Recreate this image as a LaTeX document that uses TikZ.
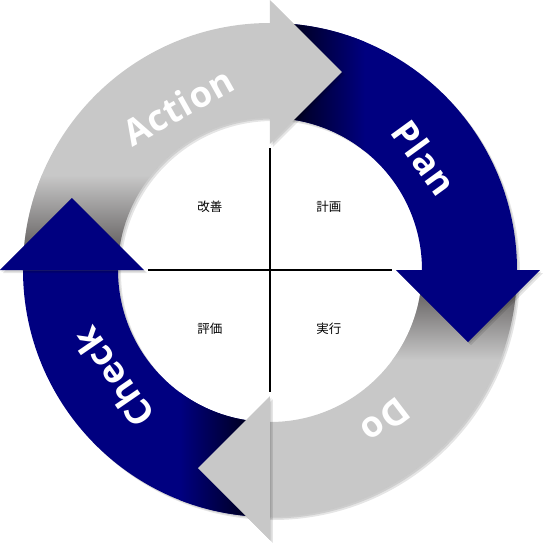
\documentclass[tikz,border=0pt]{standalone}
\usepackage{fontspec}
\newfontfamily\labfont{Open Sans}[LetterSpace=2]
\newfontfamily\cjk{Noto Sans CJK JP}
\definecolor{pdnavy}{RGB}{0,0,128}
\definecolor{pdgray}{RGB}{200,200,200}
\definecolor{pddark}{RGB}{72,68,68}
\def\ri{152}
\def\ro{247}
\tikzset{
  sector/.style n args={2}{insert path={(#1:\ro) arc[start angle=#1,end angle=#2,radius=\ro] -- (#2:\ri) arc[start angle=#2,end angle=#1,radius=\ri] -- cycle}},
  shad/.style={fill=black,opacity=0.10},
  lab/.style={text=white,font=\labfont\bfseries\fontsize{36}{36}\selectfont,inner sep=0pt},
  jp/.style={font=\cjk\fontsize{12.5}{13}\selectfont,inner sep=0pt},
  cross/.style={line width=1.8pt}
}
\begin{document}
\begin{tikzpicture}[x=1pt,y=1pt]
\useasboundingbox (-270,-280) rectangle (280,270);
% body shadows
\foreach \a/\b in {90/0,0/-90,270/180,180/90}{
  \path[shad,shift={(1.5,-1.5)},sector={\a}{\b}];
  \path[shad,shift={(3,-3)},sector={\a}{\b}];
}
% Plan body
\path[fill=pdnavy,sector={90}{0}];
\begin{scope}
  \path[clip,sector={90}{0}];
  \shade[left color=black,right color=pdnavy] (0,100) rectangle (95,260);
\end{scope}
% Do body
\path[fill=pdgray,sector={0}{-90}];
\begin{scope}
  \path[clip,sector={0}{-90}];
  \shade[top color=pddark,bottom color=pdgray] (100,-90) rectangle (260,0);
\end{scope}
% Check body
\path[fill=pdnavy,sector={270}{180}];
\begin{scope}
  \path[clip,sector={270}{180}];
  \shade[left color=pdnavy,right color=black] (-90,-260) rectangle (0,-100);
\end{scope}
% Action body
\path[fill=pdgray,sector={180}{90}];
\begin{scope}
  \path[clip,sector={180}{90}];
  \shade[bottom color=pddark,top color=pdgray] (-260,0) rectangle (-100,95);
\end{scope}
% head shadows
\foreach \s in {1.5,3}{
  \fill[shad,shift={(\s,-\s)}] (126,0) -- (270,0) -- (198,-72) -- cycle;
  \fill[shad,shift={(\s,-\s)}] (0,-126) -- (0,-270) -- (-72,-198) -- cycle;
  \fill[shad,shift={(\s,-\s)}] (-126,0) -- (-270,0) -- (-198,72) -- cycle;
  \fill[shad,shift={(\s,-\s)}] (0,126) -- (0,270) -- (72,198) -- cycle;
}
% heads
\fill[pdnavy] (126,0) -- (270,0) -- (198,-72) -- cycle;
\fill[pdgray] (0,-126) -- (0,-270) -- (-72,-198) -- cycle;
\fill[pdnavy] (-126,0) -- (-270,0) -- (-198,72) -- cycle;
\fill[pdgray] (0,126) -- (0,270) -- (72,198) -- cycle;
% cross
\draw[cross] (0,122) -- (0,-122);
\draw[cross] (-122,0) -- (122,0);
% labels
\node[lab,rotate=-54] (plan) at (36:191) {Plan};
\node[lab,rotate=-142.5] (do) at (-52.5:190) {Do};
\node[lab,rotate=124.5] (check) at (214.5:190) {Check};
\node[lab,rotate=29.3] (action) at (119.3:188) {Action};
\node[jp] (kaizen) at (-60,63) {改善};
\node[jp] (keikaku) at (59,63) {計画};
\node[jp] (hyouka) at (-60,-59) {評価};
\node[jp] (jikkou) at (59,-59) {実行};
\end{tikzpicture}
\end{document}
